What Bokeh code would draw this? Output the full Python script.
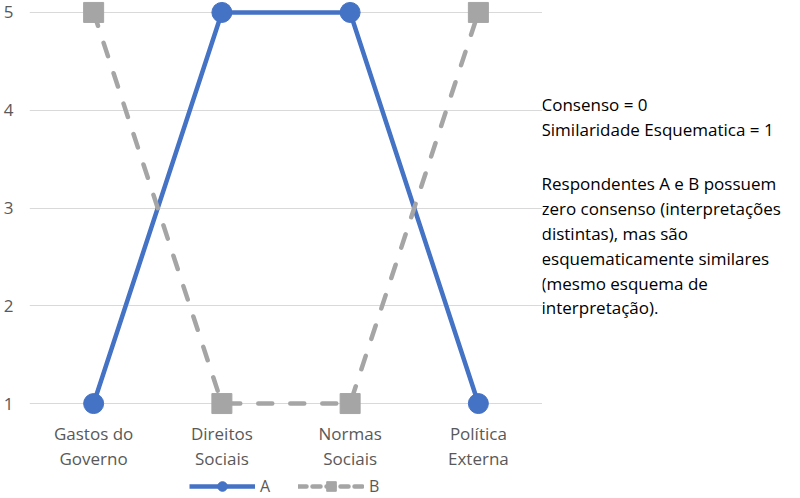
from bokeh.plotting import figure
from bokeh.layouts import row, column
from bokeh.models import FactorRange, Range1d, FixedTicker, Label, Legend, LegendItem
from bokeh.embed import file_html
from bokeh.resources import INLINE

categories = ["Gastos do\nGoverno", "Direitos\nSociais", "Normas\nSociais", "Política\nExterna"]
series_a = [1, 5, 5, 1]
series_b = [5, 1, 1, 5]
y_ticks = [1, 2, 3, 4, 5]
note_lines = [
    "Consenso = 0",
    "Similaridade Esquematica = 1",
    "",
    "Respondentes A e B possuem",
    "zero consenso (interpretações",
    "distintas), mas são",
    "esquematicamente similares",
    "(mesmo esquema de",
    "interpretação).",
]
# off-screen placeholder points so the legend strip can draw its keys
key_x = [-10, -9]
key_y = [-10, -9]

FONT = "Open Sans"
GRAY = "#595959"
BLUE = "#4472C4"
LGRAY = "#A5A5A5"
W_MAIN = 542
H_MAIN = 473
H_LEG = 498 - H_MAIN


def blank(fig):
    fig.outline_line_color = None
    fig.axis.visible = False
    fig.grid.visible = False


p = figure(width=W_MAIN, height=H_MAIN,
           x_range=FactorRange(*categories),
           y_range=Range1d(0.8779, 5.1221),
           output_backend="svg", toolbar_location=None,
           min_border_left=0, min_border_right=0,
           min_border_top=0, min_border_bottom=H_MAIN - 417,
           background_fill_color="white", border_fill_color="white")
p.outline_line_color = None

p.yaxis.ticker = FixedTicker(ticks=y_ticks)
p.yaxis.axis_line_color = None
p.yaxis.major_tick_line_color = None
p.yaxis.minor_tick_line_color = None
p.yaxis.major_label_text_font = FONT
p.yaxis.major_label_text_font_size = "17px"
p.yaxis.major_label_text_color = GRAY
p.yaxis.major_label_standoff = 10

p.xaxis.axis_line_color = None
p.xaxis.major_tick_line_color = None
p.xaxis.major_label_text_font = FONT
p.xaxis.major_label_text_font_size = "17px"
p.xaxis.major_label_text_color = GRAY
p.xaxis.major_label_standoff = 0
p.xaxis.major_label_text_line_height = 1.13

p.xgrid.grid_line_color = None
p.ygrid.ticker = FixedTicker(ticks=y_ticks)
p.ygrid.grid_line_color = "#D9D9D9"
p.ygrid.grid_line_width = 1

p.line(x=categories, y=series_a, line_color=BLUE, line_width=4.5, line_join="round")
p.scatter(x=categories, y=series_a, marker="circle", size=20, fill_color=BLUE, line_color=BLUE)
p.line(x=categories, y=series_b, line_color=LGRAY, line_width=4.5,
       line_dash="14 18", line_cap="round")
p.scatter(x=categories, y=series_b, marker="square", size=20, fill_color=LGRAY, line_color=LGRAY)

# legend strip below the chart
leg = figure(width=W_MAIN, height=H_LEG, x_range=Range1d(0, 1), y_range=Range1d(0, 1),
             output_backend="svg", toolbar_location=None,
             min_border_left=0, min_border_right=0, min_border_top=0, min_border_bottom=0,
             background_fill_color="white", border_fill_color="white")
blank(leg)
ka = leg.line(x=key_x, y=key_y, line_color=BLUE, line_width=4.5)
kam = leg.scatter(x=key_x, y=key_y, marker="circle", size=12, fill_color=BLUE, line_color=BLUE)
kb = leg.line(x=key_x, y=key_y, line_color=LGRAY, line_width=4.5, line_dash="8 6", line_cap="round")
kbm = leg.scatter(x=key_x, y=key_y, marker="square", size=12, fill_color=LGRAY, line_color=LGRAY)
legend = Legend(items=[LegendItem(label="A", renderers=[ka, kam]),
                       LegendItem(label="B", renderers=[kb, kbm])],
                orientation="horizontal", location=(160, 0),
                label_text_font=FONT, label_text_font_size="16px",
                label_text_color=GRAY, glyph_width=66, glyph_height=24,
                spacing=18, padding=0, margin=0, label_standoff=5,
                border_line_color=None, background_fill_alpha=0)
leg.add_layout(legend)

# note panel on the right
W_NOTE = 800 - W_MAIN
note = figure(width=W_NOTE, height=498,
              x_range=Range1d(0, W_NOTE), y_range=Range1d(498, 0),
              output_backend="svg", toolbar_location=None,
              min_border_left=0, min_border_right=0,
              min_border_top=0, min_border_bottom=0,
              background_fill_color="white", border_fill_color="white")
blank(note)
for i, line in enumerate(note_lines):
    if not line:
        continue
    yy = 104 + i * 24.8 + (5 if i >= 3 else 0)
    note.add_layout(Label(x=-1, y=yy, text=line, text_font=FONT,
                          text_font_size="17px", text_color="#000000",
                          text_baseline="middle", text_align="left"))

layout = row(column(p, leg, spacing=0), note, spacing=0)
open("out.html", "w").write(file_html(layout, INLINE))
